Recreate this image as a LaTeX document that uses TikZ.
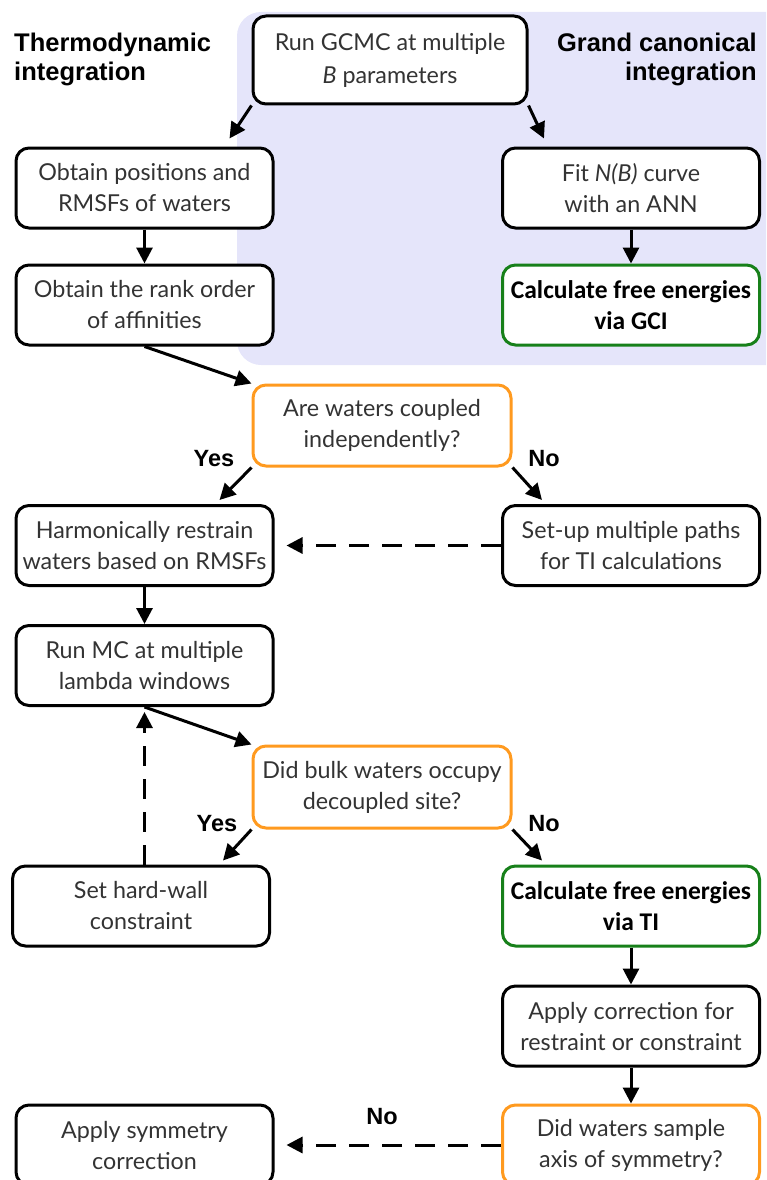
\documentclass[tikz,border=0pt]{standalone}
\usepackage{fontspec}
\setmainfont{Lato}
\newfontfamily\headfont{Liberation Sans}
\newfontfamily\boldfont{Carlito}
\usetikzlibrary{positioning,calc,arrows.meta}
\definecolor{textgrey}{HTML}{333333}
\definecolor{gciShade}{HTML}{E5E5FA}
\definecolor{askOrange}{HTML}{FF9A1F}
\definecolor{doneGreen}{HTML}{17801A}
\tikzset{
  step box/.style={rectangle, rounded corners=13pt, draw=black, line width=3pt, fill=white,
    minimum width=257pt, minimum height=80pt, inner sep=0pt, align=center,
    text=textgrey, font=\fontsize{23.3}{31}\selectfont},
  question/.style={step box, draw=askOrange},
  result/.style={step box, draw=doneGreen, text=black, font=\boldfont\bfseries\fontsize{25.5}{31}\selectfont},
  heading/.style={font=\headfont\bfseries\fontsize{25.5}{29}\selectfont, inner sep=0pt},
  answer/.style={font=\headfont\bfseries\fontsize{23.5}{25}\selectfont, inner sep=0pt},
  applyOp/.style={-{Triangle[length=16pt,width=16pt]}, line width=3pt},
  retryOp/.style={applyOp, dash pattern=on 20pt off 13pt}
}
\begin{document}
\begin{tikzpicture}[x=1pt, y=-1pt]
  \clip (0,0) rectangle (766,1180);
  \useasboundingbox (0,0) rectangle (766,1180);

  % grand canonical side
  \fill[gciShade, rounded corners=24pt] (237,12) rectangle (790,365);
  \node[heading, anchor=north west, align=left] (tiHead) at (14,33) {Thermodynamic\\integration};
  \node[heading, anchor=north east, align=right] (gciHead) at (757,33) {Grand canonical\\integration};

  \node[step box, minimum width=274pt, minimum height=88pt, font=\fontsize{23.3}{33}\selectfont] (gcmc) at (390,60) {Run GCMC at multiple\\\textit{B} parameters};
  \node[step box] (positions) at (144.5,188) {Obtain positions and\\RMSFs of waters};
  \node[step box] (rank) at (144.5,305) {Obtain the rank order\\of affinities};
  \node[step box] (fit) at (631,188) {Fit \textit{N(B)} curve\\with an ANN};
  \node[result] (gci) at (631,305) {Calculate free energies\\via GCI};

  % coupling question
  \node[question, minimum width=258pt, minimum height=81pt] (coupled) at (382,425.5) {Are waters coupled\\independently?};
  \node[step box] (restrain) at (144.5,545.5) {Harmonically restrain\\waters based on RMSFs};
  \node[step box] (paths) at (631,545.5) {Set-up multiple paths\\for TI calculations};
  \node[step box] (runmc) at (144.5,665.5) {Run MC at multiple\\lambda windows};

  % occupancy question
  \node[question, minimum width=258pt, minimum height=82pt] (occupy) at (382,787) {Did bulk waters occupy\\decoupled site?};
  \node[step box] (wall) at (141,906) {Set hard-wall\\constraint};
  \node[result] (ti) at (631,906) {Calculate free energies\\via TI};
  \node[step box] (correct) at (631,1026) {Apply correction for\\restraint or constraint};

  % symmetry question
  \node[step box] (symm) at (144.5,1145) {Apply symmetry\\correction};
  \node[question] (axis) at (631,1145) {Did waters sample\\axis of symmetry?};

  \node[answer] (yesA) at (214,459) {Yes};
  \node[answer] (noA) at (544,459) {No};
  \node[answer] (yesB) at (217,824) {Yes};
  \node[answer] (noB) at (544,824) {No};
  \node[answer] (noC) at (382,1117) {No};

  \draw[applyOp] (gcmc.south west) -- ($(positions.north east)+(-45,-8)$);
  \draw[applyOp] (gcmc.south east) -- ($(fit.north west)+(43,-8)$);
  \draw[applyOp] (positions) -- (rank);
  \draw[applyOp] (fit) -- (gci);
  \draw[applyOp] (rank.south) -- (coupled.north west);

  \draw[applyOp] (coupled.south west) -- ($(restrain.north east)+(-55,-4)$);
  \draw[applyOp] (coupled.south east) -- ($(paths.north west)+(41,-4)$);
  \draw[retryOp] (paths.west) -- ($(restrain.east)+(12,0)$);
  \draw[applyOp] (restrain) -- (runmc);
  \draw[applyOp] (runmc.south) -- (occupy.north west);

  \draw[applyOp] (occupy.south west) -- ($(wall.north east)+(-48,-4)$);
  \draw[applyOp] (occupy.south east) -- ($(ti.north west)+(41,-4)$);
  \draw[retryOp] (wall.north -| runmc.south) -- ($(runmc.south)+(0,5)$);
  \draw[applyOp] (ti) -- (correct);
  \draw[applyOp] (correct) -- (axis);

  \draw[retryOp] (axis.west) -- ($(symm.east)+(12,0)$);
\end{tikzpicture}
\end{document}
